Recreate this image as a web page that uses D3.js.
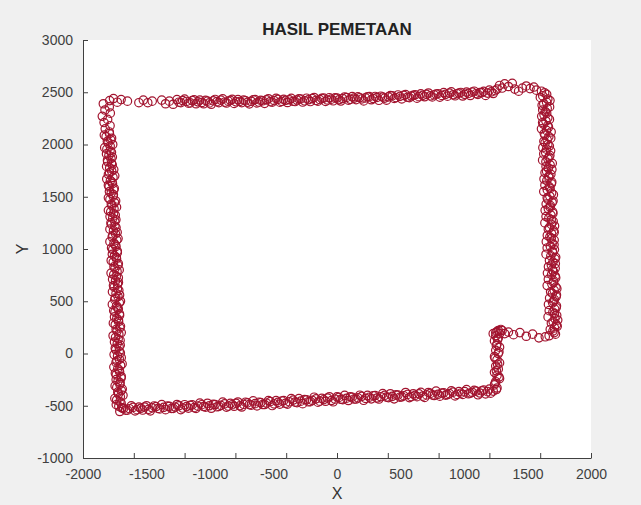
<!DOCTYPE html>
<meta charset="utf-8">

<style>
    body {
        margin: 0;
        background: #f0f0f0;
    }

    svg {
        display: block;
        font-family: "Liberation Sans", Arial, sans-serif;
    }

    .marker {
        fill: none;
        stroke: #a2142f;
        stroke-width: 1.2;
    }

    .axis path, .axis line {
        stroke: #404040;
    }

    .axis text {
        fill: #404040;
        font-size: 14px;
        font-family: "Liberation Sans", Arial, sans-serif;
    }
</style>

<body></body>

<script src="https://d3js.org/d3.v7.min.js"></script>
<script>
    // tick labels / tick marks
    const xLabels = [-2000, -1500, -1000, -500, 0, 500, 1000, 1500, 2000];
    const xTickMarks = [-2000, -1600, -1200, -800, -400, 0, 400, 800, 1200, 1600, 2000];
    const yLabels = [-1000, -500, 0, 500, 1000, 1500, 2000, 2500, 3000];

    // mapped points, one array per side of the route (two passes each)
    const topEdge = [
        [-1790,2420],[-1760,2440],[-1730,2405],[-1700,2430],[-1650,2415],[-1560,2400],[-1525,2425],[-1490,2400],[-1455,2415],
        [-1380,2425],[-1350,2390],[-1320,2415],[-1290,2385],[-1260,2430],[-1230,2400],[-1200,2435],[-1170,2395],[-1140,2420],[-1110,2390],
        [-1080,2425],[-1050,2390],[-1020,2415],[-990,2385],[-960,2431],[-930,2401],[-900,2437],[-870,2397],[-840,2423],[-810,2393],
        [-780,2429],[-750,2400],[-720,2419],[-690,2389],[-660,2428],[-630,2398],[-600,2423],[-570,2394],[-540,2438],[-510,2405],
        [-480,2441],[-450,2405],[-420,2432],[-390,2402],[-360,2441],[-330,2411],[-300,2437],[-270,2406],[-240,2443],[-210,2411],
        [-180,2450],[-150,2415],[-120,2442],[-90,2412],[-60,2448],[-30,2418],[0,2445],[30,2416],[60,2455],[90,2424],
        [120,2459],[150,2429],[180,2448],[210,2417],[240,2457],[270,2428],[300,2460],[330,2423],[360,2454],[390,2424],
        [420,2468],[450,2441],[480,2474],[510,2436],[540,2478],[570,2448],[600,2471],[630,2443],[660,2484],[690,2457],
        [720,2493],[750,2455],[780,2482],[810,2453],[840,2496],[870,2462],[900,2504],[930,2466],[960,2492],[990,2464],
        [1020,2501],[1050,2469],[1080,2510],[1110,2480],[1140,2496],[1170,2470],[1200,2520],[1230,2488],
        [1260,2530],[1280,2565],[1300,2540],[1320,2580],[1350,2555],[1380,2585],[1400,2530],[1430,2510],[1460,2540],
        [1490,2560],[1520,2535],[1550,2550],[1570,2520]
    ];
    const topEdgeB = [
        [-1245,2405],[-1215,2420],[-1185,2412],[-1155,2398],[-1125,2428],[-1095,2408],[-1065,2402],[-1035,2422],[-1005,2398],[-975,2418],
        [-945,2410],[-915,2425],[-885,2405],[-855,2415],[-825,2432],[-795,2408],[-765,2412],[-735,2426],[-705,2404],[-675,2414],
        [-645,2430],[-615,2406],[-585,2418],[-555,2428],[-525,2410],[-495,2420],[-465,2432],[-435,2412],[-405,2422],[-375,2428],
        [-345,2414],[-315,2426],[-285,2436],[-255,2418],[-225,2428],[-195,2440],[-165,2422],[-135,2430],[-105,2444],[-75,2426],
        [-45,2434],[-15,2446],[15,2428],[45,2440],[75,2450],[105,2432],[135,2444],[165,2456],[195,2436],[225,2446],
        [255,2458],[285,2440],[315,2450],[345,2462],[375,2444],[405,2456],[435,2466],[465,2448],[495,2460],[525,2470],
        [555,2452],[585,2464],[615,2476],[645,2458],[675,2470],[705,2480],[735,2466],[765,2474],[795,2486],[825,2470],
        [855,2480],[885,2492],[915,2476],[945,2486],[975,2498],[1005,2480],[1035,2490],[1065,2502],[1095,2486],[1125,2496],
        [1155,2508],[1185,2492],[1215,2504],[1245,2515]
    ];

    const rightEdge = [
        [1610,2510],[1651,2480],[1601,2450],[1677,2420],[1628,2390],[1674,2360],[1620,2330],[1651,2300],[1612,2270],[1673,2240],
        [1619,2210],[1660,2180],[1610,2150],[1686,2120],[1637,2090],[1683,2060],[1629,2030],[1660,2000],[1621,1970],[1682,1940],
        [1628,1910],[1669,1880],[1619,1850],[1695,1820],[1646,1790],[1692,1760],[1638,1730],[1669,1700],[1630,1670],[1691,1640],
        [1637,1610],[1678,1580],[1628,1550],[1704,1520],[1655,1490],[1701,1460],[1647,1430],[1678,1400],[1639,1370],[1700,1340],
        [1646,1310],[1687,1280],[1637,1250],[1713,1220],[1664,1190],[1710,1160],[1656,1130],[1687,1100],[1648,1070],[1709,1040],
        [1655,1010],[1696,980],[1646,950],[1722,920],[1673,890],[1719,860],[1665,830],[1696,800],[1657,770],[1718,740],
        [1664,710],[1705,680],[1655,650],[1731,620],[1682,590],[1728,560],[1674,530],[1705,500],[1665,470],[1726,440],
        [1671,410],[1712,380],[1662,350],[1738,320],[1688,290],[1734,260],[1679,230],[1710,200],[1670,170]
    ];
    const rightEdgeB = [
        [1635,2495],[1620,2465],[1660,2435],[1650,2405],[1615,2375],[1655,2345],[1640,2315],[1630,2285],[1660,2255],[1645,2225],
        [1625,2195],[1665,2165],[1650,2135],[1632,2105],[1668,2075],[1655,2045],[1638,2015],[1672,1985],[1650,1955],[1642,1925],
        [1676,1895],[1660,1865],[1645,1835],[1678,1805],[1664,1775],[1650,1745],[1684,1715],[1668,1685],[1652,1655],[1688,1625],
        [1672,1595],[1656,1565],[1690,1535],[1676,1505],[1660,1475],[1694,1445],[1680,1415],[1664,1385],[1698,1355],[1684,1325],
        [1668,1295],[1702,1265],[1688,1235],[1672,1205],[1706,1175],[1690,1145],[1676,1115],[1710,1085],[1694,1055],[1680,1025],
        [1712,995],[1698,965],[1684,935],[1716,905],[1700,875],[1688,845],[1718,815],[1704,785],[1690,755],[1722,725],
        [1706,695],[1692,665],[1724,635],[1710,605],[1696,575],[1726,545],[1712,515],[1698,485],[1728,455],[1714,425],
        [1700,395],[1730,365],[1716,335],[1702,305],[1728,275],[1712,245],[1700,215],[1720,185]
    ];

    const stepEdge = [
        [1640,160],[1590,150],[1540,185],[1490,165],[1440,200],[1390,180],[1350,205],[1320,190],
        [1300,220],[1270,220],[1250,200],[1230,190],[1290,230],[1260,210],[1280,190],[1250,170],[1270,150],[1240,120],
        [1260,90],[1280,60],[1250,30],[1270,0],[1240,-30],[1260,-60],[1280,-90],[1250,-120],[1270,-150],[1240,-180],
        [1260,-210],[1280,-240],[1250,-270],[1240,-300],[1260,-330],[1230,-360],[1210,-380],
        [1265,135],[1255,75],[1275,15],[1245,-45],[1265,-105],[1255,-165],[1275,-225],[1245,-285],[1255,-345]
    ];

    const bottomEdge = [
        [1200,-340],[1170,-387],[1140,-358],[1110,-395],[1080,-352],[1050,-379],[1020,-345],[990,-392],[960,-364],[930,-406],
        [900,-358],[870,-394],[840,-376],[810,-408],[780,-360],[750,-396],[720,-373],[690,-420],[660,-372],[630,-413],
        [600,-385],[570,-422],[540,-373],[510,-415],[480,-397],[450,-434],[420,-385],[390,-417],[360,-384],[330,-436],
        [300,-402],[270,-434],[240,-401],[210,-448],[180,-399],[150,-436],[120,-418],[90,-450],[60,-401],[30,-438],
        [0,-415],[-30,-462],[-60,-414],[-90,-457],[-120,-429],[-150,-466],[-180,-418],[-210,-461],[-240,-443],[-270,-480],
        [-300,-432],[-330,-465],[-360,-432],[-390,-484],[-420,-451],[-450,-484],[-480,-451],[-510,-498],[-540,-450],[-570,-488],
        [-600,-470],[-630,-501],[-660,-453],[-690,-489],[-720,-466],[-750,-512],[-780,-464],[-810,-505],[-840,-477],[-870,-513],
        [-900,-465],[-930,-506],[-960,-488],[-990,-524],[-1020,-476],[-1050,-507],[-1080,-474],[-1110,-525],[-1140,-492],[-1170,-523],
        [-1200,-490],[-1230,-537],[-1260,-488],[-1290,-525],[-1320,-506],[-1350,-538],[-1380,-489],[-1410,-526],[-1440,-502],[-1470,-549],
        [-1500,-500],[-1530,-541],[-1560,-513],[-1590,-549],[-1620,-501],[-1650,-542],[-1680,-524],[-1710,-555]
    ];
    const bottomEdgeB = [
        [1185,-365],[1155,-350],[1125,-378],[1095,-360],[1065,-372],[1035,-385],[1005,-365],[975,-380],[945,-392],[915,-370],
        [885,-384],[855,-398],[825,-378],[795,-390],[765,-402],[735,-382],[705,-396],[675,-408],[645,-386],[615,-400],
        [585,-412],[555,-392],[525,-404],[495,-418],[465,-396],[435,-410],[405,-422],[375,-400],[345,-414],[315,-426],
        [285,-404],[255,-418],[225,-430],[195,-410],[165,-424],[135,-436],[105,-414],[75,-428],[45,-442],[15,-420],
        [-15,-436],[-45,-450],[-75,-426],[-105,-442],[-135,-456],[-165,-434],[-195,-448],[-225,-462],[-255,-440],[-285,-456],
        [-315,-470],[-345,-446],[-375,-462],[-405,-476],[-435,-454],[-465,-468],[-495,-482],[-525,-460],[-555,-474],[-585,-488],
        [-615,-466],[-645,-480],[-675,-494],[-705,-472],[-735,-486],[-765,-500],[-795,-476],[-825,-490],[-855,-504],[-885,-482],
        [-915,-496],[-945,-510],[-975,-486],[-1005,-500],[-1035,-514],[-1065,-490],[-1095,-504],[-1125,-518],[-1155,-496],[-1185,-508],
        [-1215,-522],[-1245,-500],[-1275,-512],[-1305,-526],[-1335,-504],[-1365,-516],[-1395,-530],[-1425,-508],[-1455,-520],[-1485,-534],
        [-1515,-512],[-1545,-524],[-1575,-538],[-1605,-516],[-1635,-528],[-1665,-542],[-1695,-520]
    ];

    const leftEdge = [
        [-1692,-520],[-1738,-490],[-1709,-460],[-1749,-430],[-1685,-400],[-1726,-370],[-1691,-340],[-1747,-310],[-1708,-280],[-1739,-250],
        [-1699,-220],[-1745,-190],[-1716,-160],[-1757,-130],[-1692,-100],[-1733,-70],[-1699,-40],[-1755,-10],[-1715,20],[-1746,50],
        [-1707,80],[-1752,110],[-1723,140],[-1763,170],[-1699,200],[-1739,230],[-1705,260],[-1761,290],[-1721,320],[-1752,350],
        [-1713,380],[-1758,410],[-1729,440],[-1769,470],[-1705,500],[-1746,530],[-1712,560],[-1768,590],[-1729,620],[-1760,650],
        [-1721,680],[-1767,710],[-1738,740],[-1779,770],[-1715,800],[-1756,830],[-1722,860],[-1778,890],[-1738,920],[-1769,950],
        [-1730,980],[-1775,1010],[-1747,1040],[-1788,1070],[-1724,1100],[-1765,1130],[-1731,1160],[-1788,1190],[-1749,1220],[-1780,1250],
        [-1741,1280],[-1787,1310],[-1759,1340],[-1800,1370],[-1736,1400],[-1777,1430],[-1743,1460],[-1800,1490],[-1761,1520],[-1792,1550],
        [-1754,1580],[-1800,1610],[-1772,1640],[-1813,1670],[-1750,1700],[-1791,1730],[-1758,1760],[-1814,1790],[-1776,1820],[-1807,1850],
        [-1769,1880],[-1815,1910],[-1787,1940],[-1829,1970],[-1766,2000],[-1808,2030],[-1775,2060],[-1832,2090],[-1793,2120],[-1825,2150],
        [-1787,2180],[-1834,2210],[-1806,2240],[-1848,2270],[-1785,2300],[-1827,2330],[-1793,2360],[-1840,2390]
    ];
    const leftEdgeB = [
        [-1718,-505],[-1700,-475],[-1735,-445],[-1706,-415],[-1720,-385],[-1698,-355],[-1734,-325],[-1710,-295],[-1724,-265],[-1700,-235],
        [-1738,-205],[-1712,-175],[-1726,-145],[-1704,-115],[-1740,-85],[-1714,-55],[-1728,-25],[-1706,5],[-1742,35],[-1716,65],
        [-1730,95],[-1708,125],[-1744,155],[-1718,185],[-1732,215],[-1710,245],[-1746,275],[-1720,305],[-1734,335],[-1712,365],
        [-1748,395],[-1722,425],[-1736,455],[-1714,485],[-1750,515],[-1724,545],[-1740,575],[-1718,605],[-1754,635],[-1728,665],
        [-1744,695],[-1722,725],[-1758,755],[-1732,785],[-1748,815],[-1726,845],[-1762,875],[-1736,905],[-1752,935],[-1730,965],
        [-1766,995],[-1740,1025],[-1756,1055],[-1734,1085],[-1770,1115],[-1744,1145],[-1760,1175],[-1740,1205],[-1776,1235],[-1750,1265],
        [-1766,1295],[-1746,1325],[-1782,1355],[-1756,1385],[-1772,1415],[-1752,1445],[-1788,1475],[-1762,1505],[-1778,1535],[-1758,1565],
        [-1794,1595],[-1768,1625],[-1784,1655],[-1764,1685],[-1800,1715],[-1774,1745],[-1790,1775],[-1770,1805],[-1806,1835],[-1780,1865],
        [-1796,1895],[-1776,1925],[-1812,1955],[-1786,1985],[-1802,2015],[-1782,2045],[-1818,2075],[-1792,2105]
    ];

    // set the dimensions and margins of the graph
    const margin = {top: 40, right: 50, bottom: 47, left: 83},
        width = 641 - margin.left - margin.right,
        height = 505 - margin.top - margin.bottom;

    const x = d3.scaleLinear().domain([-2000, 2000]).range([0, width]);
    const y = d3.scaleLinear().domain([-1000, 3000]).range([height, 0]);

    const root = d3.select("body")
      .append("svg")
        .attr("width", width + margin.left + margin.right)
        .attr("height", height + margin.top + margin.bottom);

    const svg = root.append("g")
        .attr("transform", "translate(" + margin.left + "," + margin.top + ")");

    // white plot area
    svg.append("rect")
        .attr("width", width)
        .attr("height", height)
        .attr("fill", "#fff");

    // points
    const points = [].concat(topEdge, topEdgeB, rightEdge, rightEdgeB, stepEdge,
        bottomEdge, bottomEdgeB, leftEdge, leftEdgeB);

    svg.selectAll("circle")
        .data(points).enter()
        .append("circle")
        .classed("marker", true)
        .attr("cx", d => x(d[0]))
        .attr("cy", d => y(d[1]))
        .attr("r", 4.2);

    // x axis: tick marks
    svg.append("g")
        .attr("class", "axis")
        .attr("transform", "translate(0," + height + ")")
        .call(d3.axisBottom(x).tickValues(xTickMarks).tickSizeInner(-5).tickSizeOuter(0).tickFormat(""));

    // x axis: labels
    svg.append("g")
        .attr("class", "axis")
        .attr("transform", "translate(0," + height + ")")
        .call(d3.axisBottom(x).tickValues(xLabels).tickSize(0).tickPadding(11).tickFormat(d => String(d)))
        .call(g => g.select(".domain").remove());

    // y axis
    svg.append("g")
        .attr("class", "axis")
        .call(d3.axisLeft(y).tickValues(yLabels).tickSizeInner(-5).tickSizeOuter(0).tickPadding(10).tickFormat(d => String(d)));

    // title and axis labels
    root.append("text")
        .attr("x", margin.left + width / 2)
        .attr("y", 35)
        .attr("text-anchor", "middle")
        .attr("font-weight", "bold")
        .attr("font-size", 17)
        .attr("fill", "#222")
        .text("HASIL PEMETAAN");

    root.append("text")
        .attr("x", margin.left + width / 2)
        .attr("y", 499)
        .attr("text-anchor", "middle")
        .attr("font-size", 16)
        .attr("fill", "#333")
        .text("X");

    root.append("text")
        .attr("transform", "translate(28," + (margin.top + y(1000)) + ") rotate(-90)")
        .attr("text-anchor", "middle")
        .attr("font-size", 16)
        .attr("fill", "#333")
        .text("Y");
</script>
